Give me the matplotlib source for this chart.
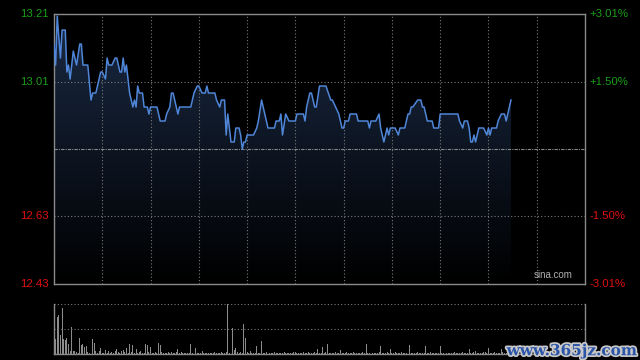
import numpy as np
import matplotlib
matplotlib.use("Agg")
import matplotlib.pyplot as plt
import matplotlib.patheffects as pe

# intraday price (minutes after 9:30, HK session, 330 min incl. lunch gap merged)
minutes = [0, 1, 2, 4, 5, 7, 8, 9, 10, 12, 14, 16, 17, 18, 21, 23, 24, 26, 29, 30,
           32, 33, 34, 36, 38, 39, 41, 42, 43, 44, 45, 46, 47, 49, 50, 51, 52, 53, 55, 56,
           58, 59, 60, 64, 66, 69, 70, 72, 73, 74, 77, 78, 85, 87, 89, 90, 92, 94, 95, 96,
           100, 101, 103, 104, 106, 107, 108, 110, 112, 113, 115, 116, 117, 118, 119, 120, 124, 126, 127, 129,
           131, 133, 137, 138, 140, 141, 142, 144, 146, 150, 151, 155, 156, 157, 159, 160, 162, 163, 165, 169,
           172, 173, 175, 177, 178, 179, 180, 181, 183, 184, 188, 189, 195, 196, 197, 200, 202, 203, 205, 207,
           208, 209, 212, 214, 215, 218, 219, 220, 221, 222, 223, 226, 228, 229, 230, 231, 232, 235, 236, 239,
           240, 251, 252, 254, 255, 257, 258, 259, 260, 261, 262, 264, 267, 269, 270, 271, 272, 275, 276, 278,
           280, 281, 284]
prices = [13.12, 13.06, 13.20, 13.08, 13.16, 13.16, 13.04, 13.06, 13.02, 13.10, 13.06, 13.12, 13.12, 13.06, 13.06, 12.96, 12.98, 12.98, 13.04, 13.04,
          13.02, 13.08, 13.06, 13.06, 13.08, 13.08, 13.04, 13.04, 13.08, 13.04, 13.06, 13.02, 12.98, 12.94, 12.96, 12.94, 13.00, 12.98, 12.98, 12.94,
          12.94, 12.92, 12.94, 12.94, 12.90, 12.90, 12.92, 12.94, 12.98, 12.98, 12.92, 12.94, 12.94, 12.98, 13.00, 13.00, 12.98, 12.98, 13.00, 12.98,
          12.98, 12.96, 12.94, 12.96, 12.96, 12.86, 12.92, 12.84, 12.84, 12.88, 12.88, 12.86, 12.82, 12.84, 12.84, 12.86, 12.86, 12.88, 12.90, 12.96,
          12.92, 12.88, 12.88, 12.90, 12.90, 12.92, 12.86, 12.92, 12.90, 12.90, 12.92, 12.92, 12.90, 12.94, 12.98, 12.98, 12.94, 12.94, 13.00, 13.00,
          12.96, 12.96, 12.94, 12.92, 12.90, 12.88, 12.88, 12.90, 12.90, 12.92, 12.92, 12.90, 12.90, 12.88, 12.90, 12.90, 12.92, 12.88, 12.84, 12.88,
          12.86, 12.88, 12.88, 12.86, 12.88, 12.88, 12.90, 12.92, 12.92, 12.94, 12.94, 12.96, 12.96, 12.94, 12.94, 12.92, 12.90, 12.90, 12.88, 12.88,
          12.92, 12.92, 12.90, 12.88, 12.90, 12.90, 12.88, 12.84, 12.84, 12.86, 12.84, 12.88, 12.88, 12.86, 12.88, 12.86, 12.88, 12.88, 12.90, 12.92,
          12.92, 12.90, 12.96]

# per-minute volume (relative units)
volume = [99, 30, 75, 79, 39, 92, 30, 28, 32, 20,
          7, 55, 7, 7, 4, 3, 32, 19, 20, 15,
          17, 5, 3, 4, 30, 23, 7, 2, 7, 12,
          3, 2, 8, 3, 7, 3, 5, 2, 6, 10,
          5, 3, 7, 8, 4, 12, 3, 20, 5, 19,
          3, 10, 3, 4, 7, 3, 3, 20, 19, 4,
          15, 3, 2, 5, 3, 22, 19, 5, 3, 2,
          2, 5, 3, 4, 3, 2, 4, 10, 3, 4,
          2, 3, 3, 2, 3, 20, 3, 2, 12, 2,
          3, 3, 7, 2, 3, 2, 3, 2, 3, 2,
          5, 2, 3, 2, 4, 3, 2, 4, 100, 3,
          70, 53, 8, 12, 5, 3, 4, 2, 60, 33,
          5, 3, 6, 3, 2, 3, 17, 3, 2, 27,
          3, 2, 4, 2, 3, 2, 3, 4, 2, 3,
          2, 3, 2, 4, 3, 2, 3, 2, 3, 5,
          4, 2, 3, 2, 3, 5, 2, 3, 4, 2,
          3, 2, 4, 3, 10, 3, 2, 15, 3, 4,
          21, 3, 2, 3, 2, 4, 3, 2, 8, 3,
          2, 3, 5, 2, 3, 2, 4, 3, 2, 3,
          2, 3, 5, 2, 20, 3, 2, 4, 3, 2,
          3, 2, 4, 16, 3, 2, 3, 5, 2, 10,
          3, 2, 4, 2, 3, 2, 5, 3, 2, 3,
          4, 18, 3, 2, 3, 2, 4, 3, 2, 3,
          2, 16, 3, 2, 4, 2, 3, 2, 3, 2,
          16, 3, 2, 4, 2, 3, 2, 3, 2, 4,
          2, 3, 2, 3, 4, 2, 3, 2, 10, 3,
          2, 4, 7, 3, 2, 3, 2, 4, 5, 3,
          12, 3, 2, 3, 4, 2, 3, 2, 10, 4,
          3, 2, 5, 3, 6]

pre_close = 12.82
span = 0.0301
left_labels = ["13.21", "13.01", "12.63", "12.43"]
right_labels = ["+3.01%", "+1.50%", "-1.50%", "-3.01%"]
label_levels = [pre_close * (1 + span), pre_close * 1.015, pre_close * 0.985, pre_close * (1 - span)]
label_colors = ["#1a9e1a", "#1a9e1a", "#e01010", "#e01010"]

plt.rcParams['font.family'] = ['Liberation Sans', 'DejaVu Sans']
fig = plt.figure(figsize=(6.4, 3.6), dpi=100, facecolor="black")

ax = fig.add_axes([54 / 640, 1 - 284 / 360, 531 / 640, 270 / 360])
ax.set_facecolor("black")
ylo, yhi = pre_close * (1 - span), pre_close * (1 + span)
ax.set_xlim(0, 330)
ax.set_ylim(ylo, yhi)

grid_kw = dict(color="#7a7a7a", lw=0.8, ls=(0, (1, 2)))
for gx in range(30, 330, 30):
    ax.axvline(gx, **grid_kw)
for gy in label_levels[1:3]:
    ax.axhline(gy, **grid_kw)
ax.axhline(pre_close, color="#8a8a8a", lw=0.8, ls=(0, (3, 1, 1, 1)))

# gradient fill under the price line
poly = ax.fill_between(minutes, prices, ylo, facecolor="none", edgecolor="none")
grad = np.linspace(1, 0, 256).reshape(-1, 1)
cmap = matplotlib.colors.LinearSegmentedColormap.from_list("g", ["#000000", "#1a2a44"])
im = ax.imshow(grad, extent=[0, 330, ylo, yhi], aspect="auto", cmap=cmap, vmin=0, vmax=1,
               origin="upper", zorder=1)
im.set_clip_path(poly.get_paths()[0], transform=ax.transData)
ax.plot(minutes, prices, color="#4f86d8", lw=1.1, zorder=3)

for s in ax.spines.values():
    s.set_color("#8a8a8a")
    s.set_linewidth(1)
ax.set_xticks([])
ax.set_yticks([])

for lv, lt, rt, c in zip(label_levels, left_labels, right_labels, label_colors):
    ax.text(-3, lv, lt, color=c, fontsize=8.2, ha="right", va="center")
    ax.text(333, lv, rt, color=c, fontsize=8.2, ha="left", va="center")

ax.text(322, ylo + 0.012, "sina.com", color="#b0b0b0", fontsize=7, ha="right", va="bottom")

# volume panel
vax = fig.add_axes([54 / 640, 1 - 354 / 360, 531 / 640, 50 / 360])
vax.set_facecolor("black")
vax.bar(np.arange(len(volume)), volume, width=0.6, color="#8c8c8c")
vax.set_xlim(0, 330)
vax.set_ylim(0, 101)
vax.axhline(101, **grid_kw)
vax.axhline(50, **grid_kw)
for k, s in vax.spines.items():
    s.set_color("#8a8a8a")
    s.set_linewidth(1)
vax.spines["top"].set_visible(False)
vax.set_xticks([])
vax.set_yticks([])

fig.text(0.995, 0.005, "www.365jz.com", color="#2a55a8", fontsize=11, fontweight="bold",
         family="DejaVu Serif", ha="right", va="bottom",
         path_effects=[pe.withStroke(linewidth=2.5, foreground="#c8c8c8")])

fig.savefig("out.png", dpi=100, facecolor="black")
